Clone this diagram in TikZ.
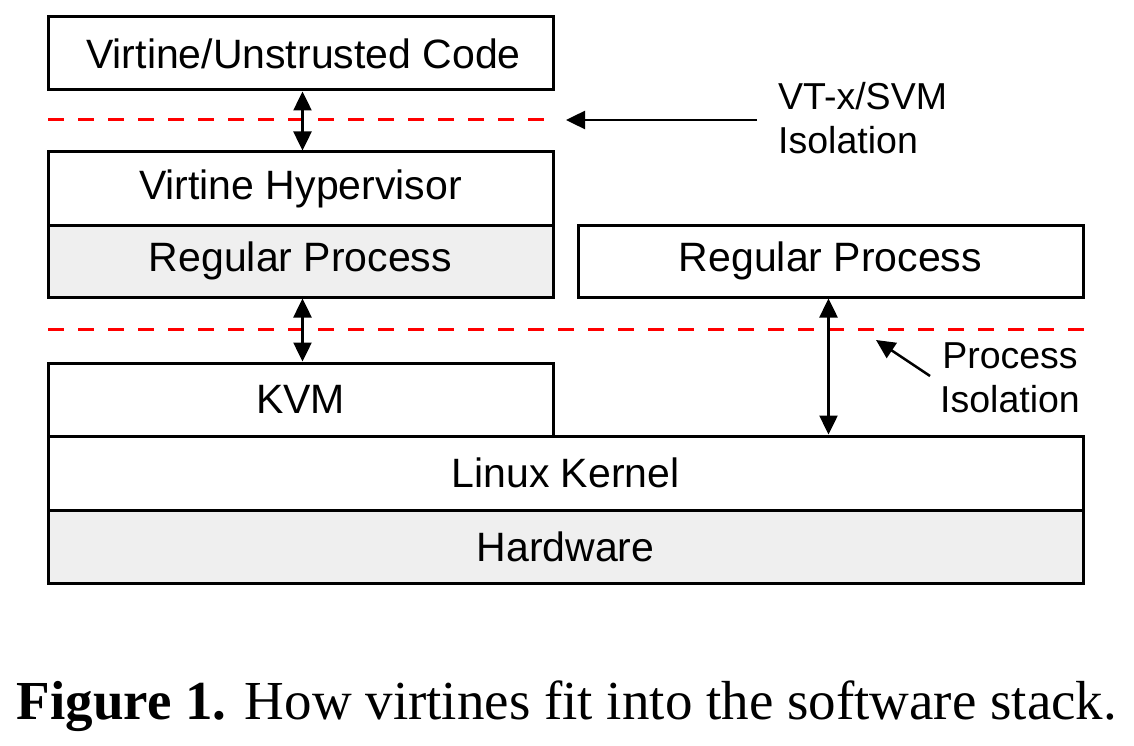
\documentclass[tikz,border=0pt]{standalone}
\usepackage{fontspec}
\setmainfont{Liberation Sans}
\newfontfamily\capfont{Liberation Serif}
\usetikzlibrary{arrows.meta}
\definecolor{boxgray}{HTML}{EFEFEF}
\definecolor{isored}{HTML}{FF0000}
\begin{document}
\begin{tikzpicture}[x=1pt,y=-1pt,
  layer/.style={draw=black, line width=3pt, fill=white, inner sep=0pt,
    font=\fontsize{41}{48}\selectfont},
  grayfill/.style={fill=boxgray},
  link/.style={line width=2.5pt, {Triangle[length=19pt,width=18pt]}-{Triangle[length=19pt,width=18pt]}},
  pointer/.style={line width=2.5pt, -{Triangle[length=19pt,width=18pt]}},
  isoline/.style={draw=isored, line width=3pt, dash pattern=on 16pt off 14pt},
  note/.style={font=\fontsize{37.5}{44}\selectfont, inner sep=0pt}]
\useasboundingbox (0,0) rectangle (1134,746);
% layers
\node[layer, minimum width=505pt, minimum height=73pt] (vc) at (300.5,53.5) {\hspace{6pt}Virtine/Unstrusted Code};
\node[layer, minimum width=505pt, minimum height=73pt] (vh) at (300.5,188.5) {Virtine Hypervisor};
\node[layer, grayfill, minimum width=505pt, minimum height=72pt] (rp1) at (300.5,261) {Regular Process};
\node[layer, minimum width=505pt, minimum height=72pt] (rp2) at (830.5,261) {Regular Process};
\node[layer, minimum width=505pt, minimum height=73pt] (kvm) at (300.5,399.5) {KVM};
\node[layer, minimum width=1035pt, minimum height=74pt] (lk) at (565.5,473) {Linux Kernel};
\node[layer, grayfill, minimum width=1035pt, minimum height=73pt] (hw) at (565.5,546.5) {Hardware};
% isolation boundaries
\coordinate (d1a) at (48,120);
\coordinate (d1b) at (556,120);
\coordinate (d2a) at (48,329);
\coordinate (d2b) at (1090,329);
\draw[isoline] (d1a) -- (d1b);
\draw[isoline] (d2a) -- (d2b);
% labels
\node[note, align=left, anchor=west] (vtx) at (778,118.5) {VT-x/SVM\\Isolation};
\node[note, align=center] (pi) at (1010,378) {Process\\Isolation};
\coordinate (vtxtip) at (566,120);
\coordinate (pitip) at (876,340);
\coordinate (vtxtail) at (757,120);
\coordinate (pitail) at (930,376);
\draw[pointer] (vtxtail) -- (vtxtip);
\draw[pointer] (pitail) -- (pitip);
% connectors
\draw[link] ([xshift=2pt]vc.south) -- ([xshift=2pt]vh.north);
\draw[link] ([xshift=2pt]rp1.south) -- ([xshift=2pt]kvm.north);
\draw[link] ([xshift=-2pt]rp2.south) -- ([xshift=-2pt]rp2.south |- lk.north);
% caption
\node[font=\capfont\fontsize{55}{66}\selectfont, inner sep=0pt] (cap) at (567,706)
  {\textbf{Figure 1.} How virtines fit into the software stack.};
\end{tikzpicture}
\end{document}
